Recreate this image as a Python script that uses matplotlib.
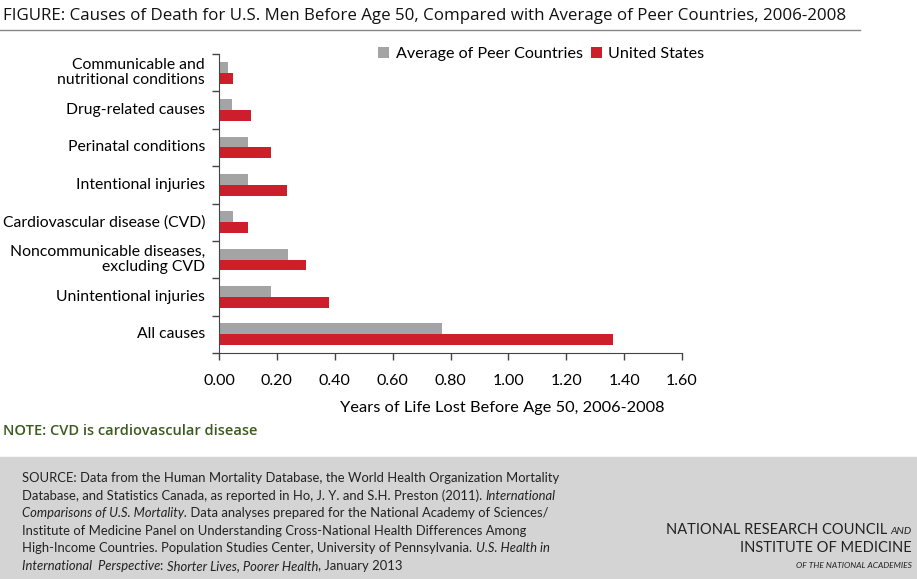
import matplotlib.pyplot as plt
from matplotlib.patches import Rectangle
import numpy as np

categories = ["Communicable and\nnutritional conditions", "Drug-related causes", "Perinatal conditions",
              "Intentional injuries", "Cardiovascular disease (CVD)", "Noncommunicable diseases,\nexcluding CVD",
              "Unintentional injuries", "All causes"]
peer = [0.03, 0.045, 0.10, 0.10, 0.05, 0.24, 0.18, 0.77]
us = [0.05, 0.11, 0.18, 0.235, 0.10, 0.30, 0.38, 1.36]
xticks = [0.0, 0.2, 0.4, 0.6, 0.8, 1.0, 1.2, 1.4, 1.6]

GRAY = "#a4a4a4"
RED = "#cc1f2b"
FONT = "Lato"

fig = plt.figure(figsize=(9.17, 5.79), dpi=100)
W, H = 917, 579

# footer background
fig.patches.append(Rectangle((0, 0), 1, 1 - 457 / H, transform=fig.transFigure, color="#d4d4d4", zorder=0))

# title + rule
fig.text(3 / W, 1 - 16 / H, "FIGURE: Causes of Death for U.S. Men Before Age 50, Compared with Average of Peer Countries, 2006-2008",
         fontsize=12.2, family="Open Sans", weight=500, va="center", ha="left", color="#111111")
fig.add_artist(plt.Line2D([0, 860 / W], [1 - 30 / H] * 2, color="#888888", lw=1, transform=fig.transFigure))

ax = fig.add_axes([219 / W, 1 - 353 / H, (682 - 219) / W, (353 - 54) / H])
n = len(categories)
y = np.arange(n)
h = 0.29
ax.barh(y - h / 2, peer, height=h, color=GRAY, label="Average of Peer Countries")
ax.barh(y + h / 2, us, height=h, color=RED, label="United States")
ax.set_ylim(n - 0.5, -0.5)
ax.set_xlim(0, 1.6)
ax.set_xticks(xticks)
ax.set_xticklabels([f"{v:.2f}" for v in xticks], family=FONT, fontsize=11.5)
ax.set_yticks(np.arange(n + 1) - 0.5)
ax.set_yticklabels([])
ax.tick_params(axis="y", which="major", length=5, width=1, color="#444444")
ax.tick_params(axis="x", length=5, width=1, color="#444444", pad=10)
for i, c in enumerate(categories):
    ax.text(-0.048, i, c, ha="right", va="center", family=FONT, fontsize=11.3, transform=ax.transData,
            linespacing=1.1)
ax.spines["top"].set_visible(False)
ax.spines["right"].set_visible(False)
ax.spines["left"].set_color("#444444")
ax.spines["bottom"].set_color("#444444")
fig.text(502 / W, 1 - 408 / H, "Years of Life Lost Before Age 50, 2006-2008", family=FONT, fontsize=11.8,
         ha="center", va="center")
ax.legend(loc="upper left", bbox_to_anchor=(0.343, 1.025), ncol=2, frameon=False, prop={"family": FONT, "size": 11.6},
          handlelength=0.7, handleheight=0.7, handletextpad=0.4, columnspacing=0.5, borderaxespad=0, borderpad=0)

fig.text(3 / W, 1 - 431 / H, "NOTE: CVD is cardiovascular disease", fontsize=10.5, family="Open Sans", weight="semibold",
         color="#3d5a1e", va="center", ha="left")

# source text with mixed italic segments
src = [
    [("SOURCE: Data from the Human Mortality Database, the World Health Organization Mortality", "normal")],
    [("Database, and Statistics Canada, as reported in Ho, J. Y. and S.H. Preston (2011). ", "normal"), ("International", "italic")],
    [("Comparisons of U.S. Mortality.", "italic"), (" Data analyses prepared for the National Academy of Sciences/", "normal")],
    [("Institute of Medicine Panel on Understanding Cross-National Health Differences Among", "normal")],
    [("High-Income Countries. Population Studies Center, University of Pennsylvania. ", "normal"), ("U.S. Health in", "italic")],
    [("International  Perspective", "italic"), (": ", "normal"), ("Shorter Lives, Poorer Health", "italic"), (", January 2013", "normal")],
]
fig.canvas.draw()
r = fig.canvas.get_renderer()
for k, line in enumerate(src):
    x = 22
    yy = 1 - (478 + k * 17.6) / H
    for s, st in line:
        t = fig.text(x / W, yy, s, fontsize=9.4, family=FONT, style=st, va="center", ha="left", color="#222222")
        bb = t.get_window_extent(renderer=r)
        x += bb.width

t_and = fig.text(912 / W, 1 - 531 / H, "AND", fontsize=7.5, family=FONT, style="italic", ha="right", va="center", color="#222222")
bb = t_and.get_window_extent(renderer=r)
fig.text((912 - bb.width - 3) / W, 1 - 530 / H, "NATIONAL RESEARCH COUNCIL", fontsize=10.5, family=FONT, ha="right",
         va="center", color="#222222")
fig.text(912 / W, 1 - 548 / H, "INSTITUTE OF MEDICINE", fontsize=10.5, family=FONT, ha="right", va="center", color="#222222")
fig.text(912 / W, 1 - 566 / H, "OF THE NATIONAL ACADEMIES", fontsize=6, family=FONT, style="italic", ha="right",
         va="center", color="#222222")

fig.savefig("out.png", dpi=100)
